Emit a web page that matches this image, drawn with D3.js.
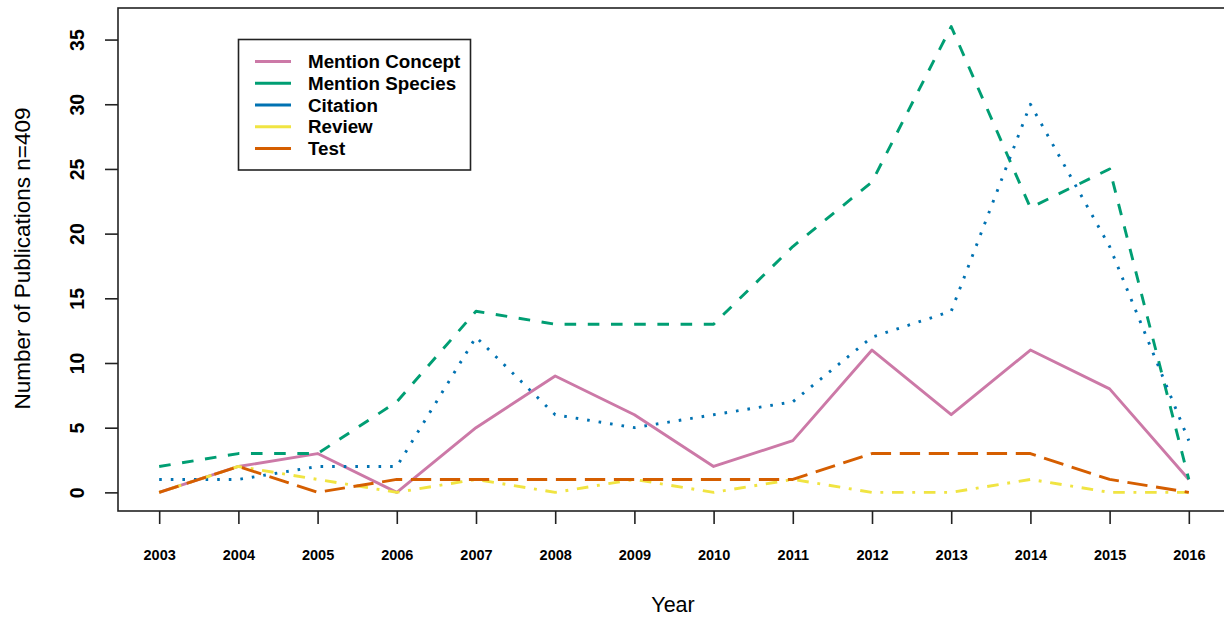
<!DOCTYPE html>
<html>
<head>
<meta charset="utf-8">
<script src="https://cdn.jsdelivr.net/npm/d3@7"></script>
<style>
  html, body { margin: 0; padding: 0; background: #fff; }
  svg { display: block; font-family: "Liberation Sans", Arial, Helvetica, sans-serif; }
</style>
</head>
<body>
<svg id="chart" width="1224" height="618"></svg>
<script>
// Publication counts per year, by type of use
const years = [2003, 2004, 2005, 2006, 2007, 2008, 2009, 2010, 2011, 2012, 2013, 2014, 2015, 2016];
const mentionConcept = [0, 2, 3, 0, 5, 9, 6, 2, 4, 11, 6, 11, 8, 1];
const mentionSpecies = [2, 3, 3, 7, 14, 13, 13, 13, 19, 24, 36, 22, 25, 1];
const citation       = [1, 1, 2, 2, 12, 6, 5, 6, 7, 12, 14, 30, 19, 4];
const review         = [0, 2, 1, 0, 1, 0, 1, 0, 1, 0, 0, 1, 0, 0];
const test           = [0, 2, 0, 1, 1, 1, 1, 1, 1, 3, 3, 3, 1, 0];
const seriesNames = ["Mention Concept", "Mention Species", "Citation", "Review", "Test"];
const yTicks = [0, 5, 10, 15, 20, 25, 30, 35];

const lw = 2.9;
const seriesStyle = [
  { color: "#CC79A7", dash: null },
  { color: "#009E73", dash: [4 * lw, 4 * lw] },
  { color: "#0072B2", dash: [0.9 * lw, 3.1 * lw] },
  { color: "#F0E442", dash: [1 * lw, 3 * lw, 4 * lw, 3 * lw] },
  { color: "#D55E00", dash: [7 * lw, 3 * lw] }
];
const seriesValues = [mentionConcept, mentionSpecies, citation, review, test];

const svg = d3.select("#chart");
const plot = { left: 118, right: 1230, top: 8, bottom: 511 };

// R-style 4% padding around the data range
const xPad = (years[years.length - 1] - years[0]) * 0.04;
const yMax = d3.max(seriesValues.flat());
const yPad = yMax * 0.04;
const x = d3.scaleLinear()
  .domain([years[0] - xPad, years[years.length - 1] + xPad])
  .range([plot.left, plot.right]);
const y = d3.scaleLinear()
  .domain([0 - yPad, yMax + yPad])
  .range([plot.bottom, plot.top]);

// Series lines
const line = d3.line().x(d => x(d[0])).y(d => y(d[1]));
seriesValues.forEach((vals, i) => {
  const st = seriesStyle[i];
  svg.append("path")
    .datum(years.map((yr, j) => [yr, vals[j]]))
    .attr("d", line)
    .attr("fill", "none")
    .attr("stroke", st.color)
    .attr("stroke-width", lw)
    .attr("stroke-linecap", "butt")
    .attr("stroke-linejoin", "round")
    .attr("stroke-dasharray", st.dash ? st.dash.join(" ") : null);
});

// Plot frame
svg.append("rect")
  .attr("x", plot.left).attr("y", plot.top)
  .attr("width", plot.right - plot.left).attr("height", plot.bottom - plot.top)
  .attr("fill", "none").attr("stroke", "#222").attr("stroke-width", 1.6);

// X axis
const xAxis = d3.axisBottom(x).tickValues(years).tickFormat(d3.format("d"))
  .tickSize(13).tickPadding(26);
const gx = svg.append("g").attr("transform", `translate(0,${plot.bottom})`).call(xAxis);
gx.select(".domain").remove();
gx.selectAll(".tick line").attr("stroke", "#222").attr("stroke-width", 1.6);
gx.selectAll(".tick text")
  .attr("fill", "#000")
  .style("font-size", "14.5px").style("font-weight", "bold")
  .style("font-family", "'Liberation Sans', Arial, sans-serif");

// Y axis (labels parallel to the axis)
const yAxis = d3.axisLeft(y).tickValues(yTicks).tickFormat(d3.format("d"))
  .tickSize(13).tickPadding(0);
const gy = svg.append("g").attr("transform", `translate(${plot.left},0)`).call(yAxis);
gy.select(".domain").remove();
gy.selectAll(".tick line").attr("stroke", "#222").attr("stroke-width", 1.6);
gy.selectAll(".tick text")
  .attr("x", null).attr("dy", null)
  .attr("transform", "translate(-41,0) rotate(-90)")
  .attr("text-anchor", "middle")
  .attr("dominant-baseline", "central")
  .attr("fill", "#000")
  .style("font-size", "19.5px").style("font-weight", "bold")
  .style("font-family", "'Liberation Sans', Arial, sans-serif");

// Axis titles
svg.append("text")
  .attr("x", (plot.left + plot.right) / 2 - 1).attr("y", 612)
  .attr("text-anchor", "middle")
  .style("font-size", "21.5px")
  .text("Year");
svg.append("text")
  .attr("transform", `translate(30,${(plot.top + plot.bottom) / 2 - 1}) rotate(-90)`)
  .attr("text-anchor", "middle")
  .style("font-size", "22.5px")
  .text("Number of Publications n=409");

// Legend
const legend = svg.append("g");
legend.append("rect")
  .attr("x", 238.5).attr("y", 39.5).attr("width", 232).attr("height", 130.5)
  .attr("fill", "#fff").attr("stroke", "#222").attr("stroke-width", 1.6);
const rowY = d3.scaleLinear().domain([0, 4]).range([61.5, 148.5]);
seriesNames.forEach((name, i) => {
  const cy = rowY(i);
  legend.append("line")
    .attr("x1", 255).attr("x2", 291).attr("y1", cy).attr("y2", cy)
    .attr("stroke", seriesStyle[i].color).attr("stroke-width", lw);
  legend.append("text")
    .attr("x", 308).attr("y", cy)
    .attr("dominant-baseline", "central")
    .style("font-size", "18.8px").style("font-weight", "bold")
    .text(name);
});
</script>
</body>
</html>
